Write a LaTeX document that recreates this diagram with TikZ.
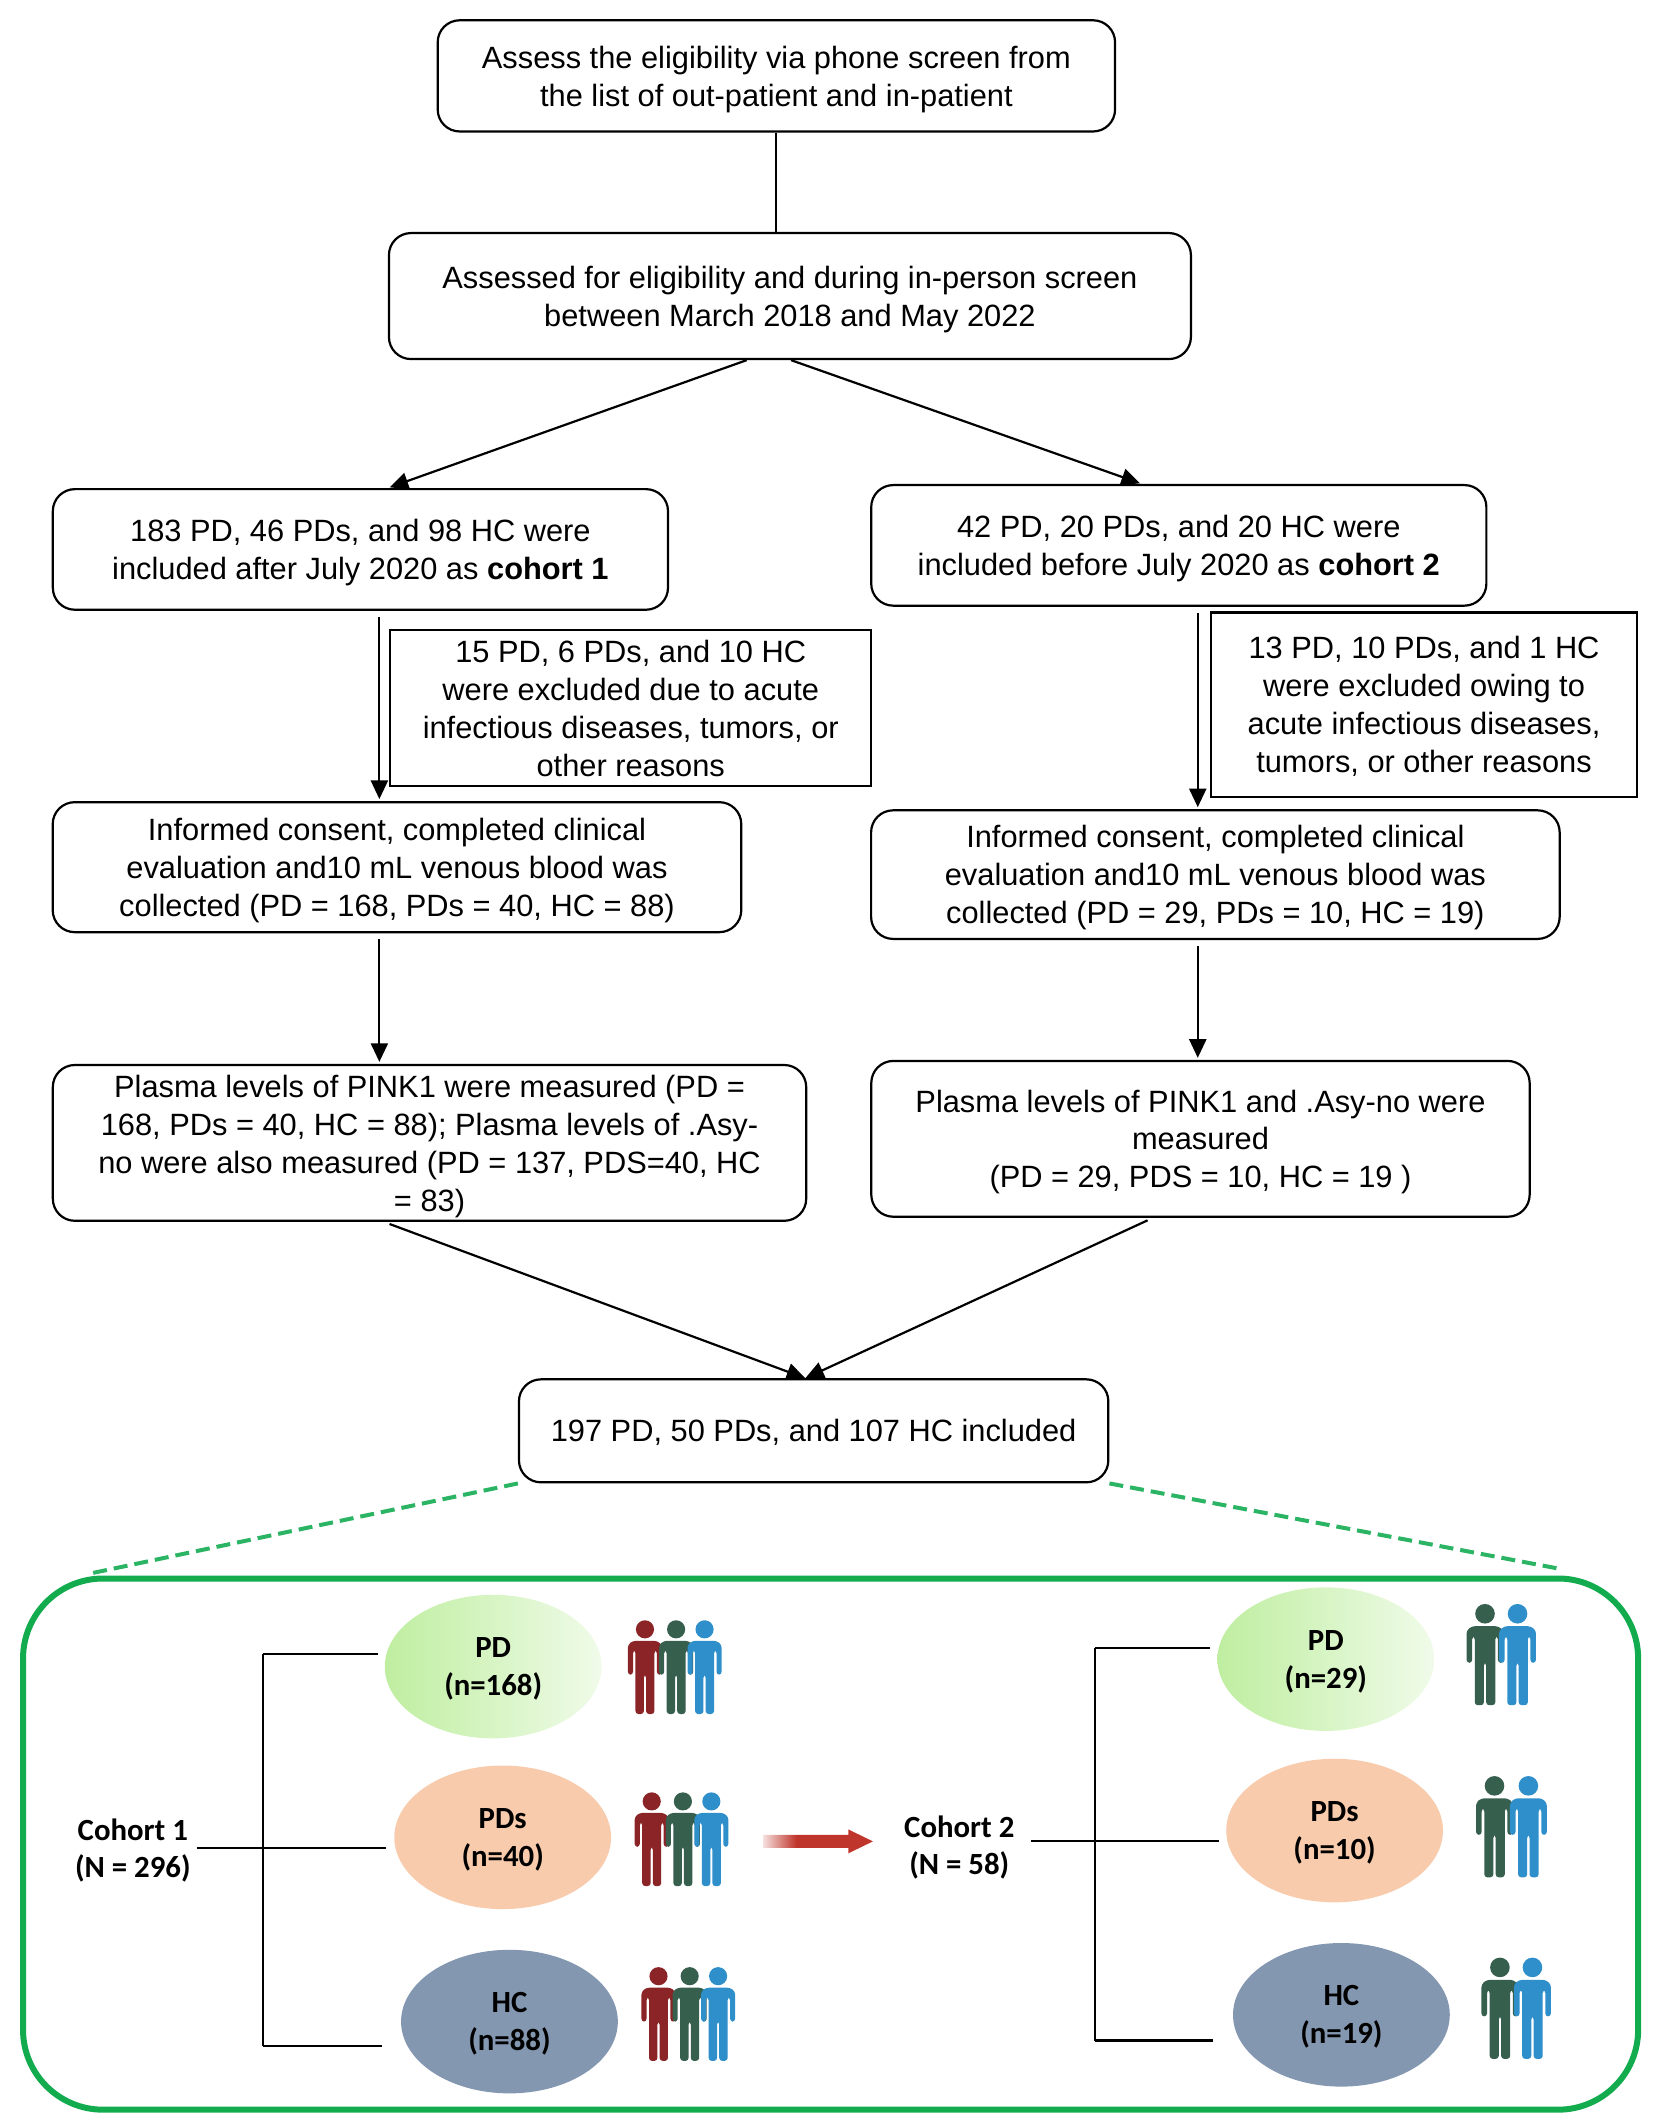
\documentclass[tikz,border=0pt]{standalone}
\usepackage{fontspec}
\setmainfont{Liberation Sans}
\newfontfamily\labelfont{Carlito}
\usetikzlibrary{arrows.meta,shapes.geometric,shapes.arrows}
\definecolor{panelgreen}{HTML}{12AB4E}
\definecolor{dashgreen}{HTML}{2BB463}
\definecolor{pdleft}{HTML}{BFEEA0}
\definecolor{pdright}{HTML}{F0FBE9}
\definecolor{pdsfill}{HTML}{F8CBAD}
\definecolor{hcfill}{HTML}{8497B0}
\definecolor{manred}{HTML}{8B2427}
\definecolor{mangreen}{HTML}{375F4E}
\definecolor{manblue}{HTML}{2E8FCB}
\definecolor{arrowred}{HTML}{C0352B}
\pgfdeclarehorizontalshading{arrowfade}{100bp}{color(0bp)=(white); color(22bp)=(white); color(40bp)=(arrowred); color(100bp)=(arrowred)}
\tikzset{
  flowbox/.style={draw,line width=1.1pt,rounded corners=11pt,inner sep=0pt,align=center,text depth=0pt,
    font=\fontsize{15.4}{19}\selectfont},
  sharpbox/.style={flowbox,rounded corners=0pt},
  flowline/.style={line width=1.1pt,shorten <=3pt},
  flowarrow/.style={flowline,shorten >=1pt,-{Triangle[length=9.3pt,width=8.5pt]}},
  group/.style={draw=none,ellipse,inner sep=0pt,minimum width=108.4pt,minimum height=71.8pt,align=center,text depth=0pt,
    font=\labelfont\bfseries\fontsize{15.4}{19}\selectfont},
  cohort/.style={inner sep=3pt,align=center,text depth=0pt,font=\labelfont\bfseries\fontsize{15.4}{18.5}\selectfont},
  branch/.style={line width=1.1pt},
  zoomline/.style={draw=dashgreen,line width=2pt,dash pattern=on 7pt off 3.5pt},
  man/.pic={
    \fill (0,6.5) circle [radius=6.7];
    \fill [rounded corners=1.5pt] (-9,15) -- (9,15) -- (12.6,18) -- (12.6,40) -- (8.8,40) -- (8.8,22)
      -- (7,22) -- (7,69) -- (0.8,69) -- (0.8,40) -- (-0.8,40) -- (-0.8,69) -- (-7,69) -- (-7,22)
      -- (-8.8,22) -- (-8.8,40) -- (-12.6,40) -- (-12.6,18) -- cycle;
  }
}
\begin{document}
\begin{tikzpicture}[x=0.6775pt,y=-0.6775pt]
\useasboundingbox (0,0) rectangle (1220.7,1567.6);

\node [flowbox,minimum width=338.7pt,minimum height=55.6pt](top) at (573,56) {Assess the eligibility via phone screen from\\the list of out-patient and in-patient};
\node [flowbox,minimum width=401pt,minimum height=63pt](second) at (583,218.5) {Assessed for eligibility and during in-person screen\\between March 2018 and May 2022};
\node [flowbox,minimum width=307.6pt,minimum height=60.3pt](cohortA) at (266,405.5) {183 PD, 46 PDs, and 98 HC were\\included after July 2020 as \textbf{cohort 1}};
\node [flowbox,minimum width=307.6pt,minimum height=60.3pt](cohortB) at (870,402.5) {42 PD, 20 PDs, and 20 HC were\\included before July 2020 as \textbf{cohort 2}};
\node [sharpbox,minimum width=240.5pt,minimum height=77.9pt](excludeA) at (465.5,522.5) {15 PD, 6 PDs, and 10 HC\\were excluded due to acute\\infectious diseases, tumors, or\\other reasons};
\node [sharpbox,minimum width=212.8pt,minimum height=92.1pt](excludeB) at (1051,520) {13 PD, 10 PDs, and 1 HC\\were excluded owing to\\acute infectious diseases,\\tumors, or other reasons};
\node [flowbox,minimum width=344.3pt,minimum height=65pt](consentA) at (293,640) {Informed consent, completed clinical\\evaluation and10 mL venous blood was\\collected (PD = 168, PDs = 40, HC = 88)};
\node [flowbox,minimum width=344.3pt,minimum height=64.3pt](consentB) at (897,645.5) {Informed consent, completed clinical\\evaluation and10 mL venous blood was\\collected (PD = 29, PDs = 10, HC = 19)};
\node [flowbox,minimum width=376.7pt,minimum height=77.9pt](plasmaA) at (317,843.5) {Plasma levels of PINK1 were measured (PD =\\168, PDs = 40, HC = 88); Plasma levels of .Asy-\\no were also measured (PD = 137, PDS=40, HC\\= 83)};
\node [flowbox,minimum width=329.2pt,minimum height=77.9pt](plasmaB) at (886,840.5) {Plasma levels of PINK1 and .Asy-no were\\measured\\(PD = 29, PDS = 10, HC = 19 )};
\node [flowbox,minimum width=294.7pt,minimum height=51.5pt](included) at (600.5,1056) {197 PD, 50 PDs, and 107 HC included};

\node [draw=panelgreen,line width=3pt,rounded corners=40pt,inner sep=0pt,minimum width=807.6pt,minimum height=265.6pt](panel) at (613,1361) {};

\coordinate (downA) at (280,450);
\coordinate (downB) at (884,450);
\coordinate (panelA) at (68,1161);
\coordinate (panelB) at (1152,1158);
\coordinate (trunkA) at (194,1221);
\coordinate (trunkB) at (808,1216);

\draw [line width=1.1pt] (top.south) -- (top.south |- second.north);
\draw [flowarrow,shorten <=0pt] (second.236.3) -- (cohortA.66.9);
\draw [flowarrow,shorten <=0pt] (second.271) -- (cohortB.121);
\draw [flowarrow] (downA |- cohortA.south) -- (downA |- consentA.north);
\draw [flowarrow] (downB |- cohortB.south) -- (downB |- consentB.north);
\draw [flowarrow] (downA |- consentA.south) -- (downA |- plasmaA.north);
\draw [flowarrow] (downB |- consentB.south) -- (downB |- plasmaB.north);
\draw [flowarrow,shorten >=0pt] (plasmaA.240) -- (included.99);
\draw [flowarrow,shorten >=0pt] (plasmaB.239.4) -- (included.99);
\draw [zoomline] (included.south west) -- (panelA);
\draw [zoomline] (included.south east) -- (panelB);

\node [group,left color=pdleft,right color=pdright](pdA) at (364,1230) {PD\\(n=168)};
\node [group,fill=pdsfill](pdsA) at (371,1356) {PDs\\(n=40)};
\node [group,fill=hcfill](hcA) at (376,1492) {HC\\(n=88)};
\node [group,left color=pdleft,right color=pdright](pdB) at (978.5,1224.5) {PD\\(n=29)};
\node [group,fill=pdsfill](pdsB) at (985,1351) {PDs\\(n=10)};
\node [group,fill=hcfill](hcB) at (990,1487) {HC\\(n=19)};

\node [cohort](cohortLabelA) at (98,1364) {Cohort 1\\(N = 296)};
\node [cohort](cohortLabelB) at (708,1362) {Cohort 2\\(N = 58)};
\node [single arrow,shading=arrowfade,inner sep=0pt,inner ysep=3pt,minimum height=54.7pt,single arrow tip angle=52,single arrow head extend=2.8pt](redArrow) at (599,1359) {};

\draw [branch] (trunkA) -- (trunkA |- 0,1510);
\draw [branch,shorten >=3.4pt] (trunkA) -- (trunkA -| pdA.west);
\draw [branch,shorten >=4pt] (cohortLabelA.east) -- (cohortLabelA.east -| pdsA.west);
\draw [branch,shorten >=9.5pt] (trunkA |- 0,1510) -- (hcA.west |- 0,1510);
\draw [branch] (trunkB) -- (trunkB |- 0,1506);
\draw [branch,shorten >=3.7pt] (trunkB) -- (trunkB -| pdB.west);
\draw [branch,shorten <=5pt,shorten >=3.4pt] (cohortLabelB.east |- redArrow) -- (pdsB.west |- redArrow);
\draw [branch,shorten >=10pt] (trunkB |- 0,1506) -- (hcB.west |- 0,1506);

\foreach \xa/\xb/\xc/\ytop in {476/499/520/1196, 481/504/525/1323, 486/509/530/1452} {
  \pic [manred] at (\xa,\ytop) {man};
  \pic [mangreen] at (\xb,\ytop) {man};
  \pic [manblue] at (\xc,\ytop) {man};
}
\foreach \xb/\xc/\ytop in {1096/1120/1184, 1103/1128/1311, 1107/1131/1445} {
  \pic [mangreen,scale=1.08] at (\xb,\ytop) {man};
  \pic [manblue,scale=1.08] at (\xc,\ytop) {man};
}
\end{tikzpicture}
\end{document}
